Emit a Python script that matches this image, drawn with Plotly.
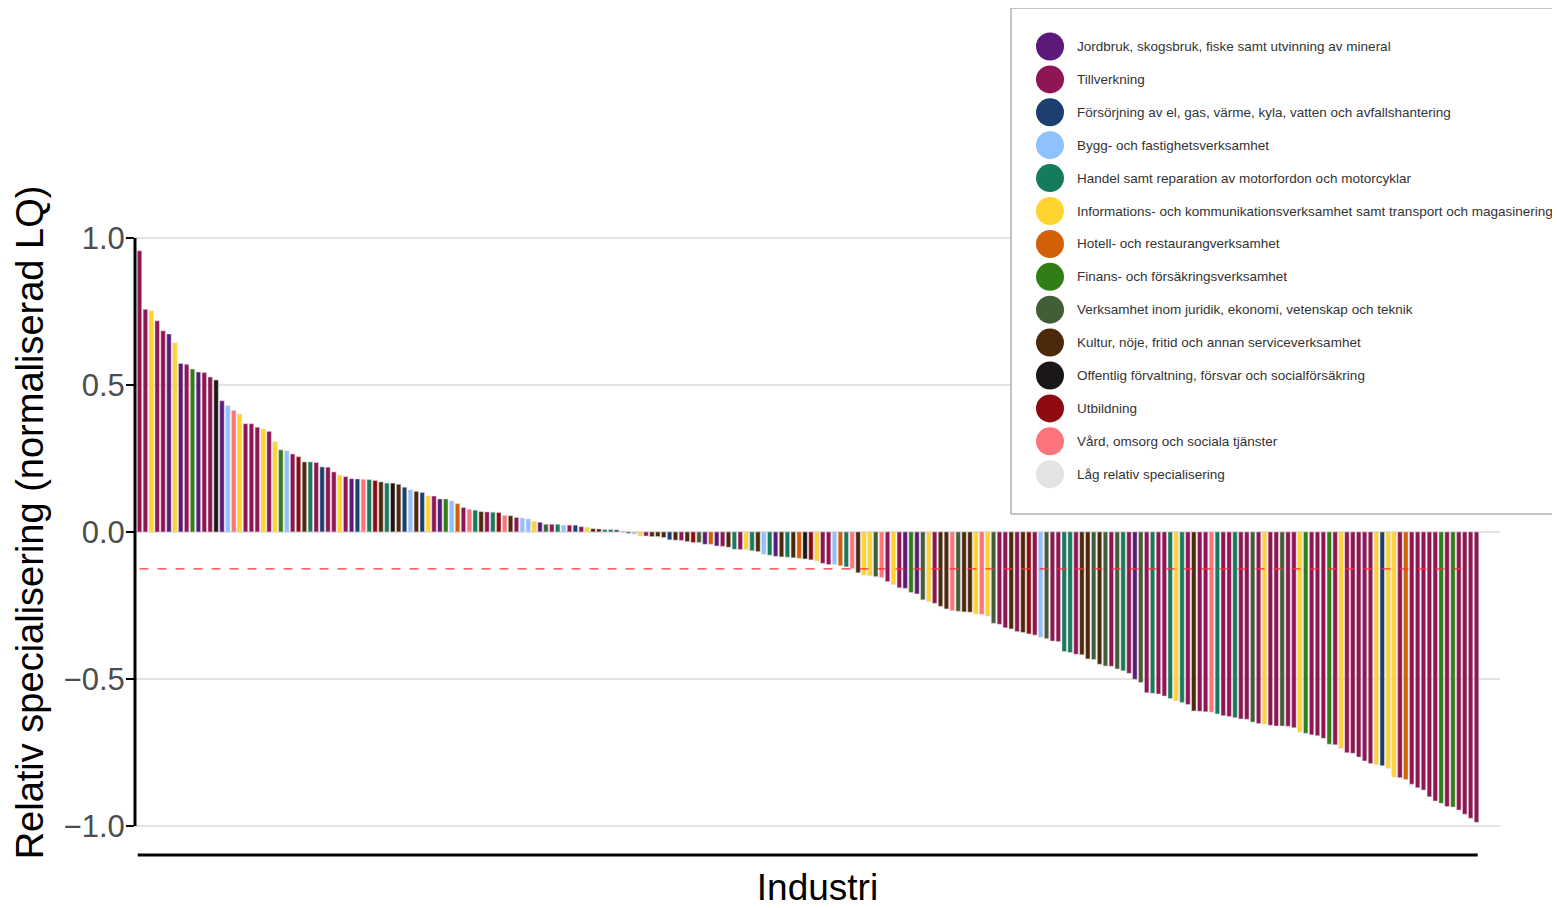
import plotly.graph_objects as go

# ---------------- data ----------------
sector_names = {
    "J": "Jordbruk, skogsbruk, fiske samt utvinning av mineral",
    "T": "Tillverkning",
    "F": "Försörjning av el, gas, värme, kyla, vatten och avfallshantering",
    "B": "Bygg- och fastighetsverksamhet",
    "H": "Handel samt reparation av motorfordon och motorcyklar",
    "I": "Informations- och kommunikationsverksamhet samt transport och magasinering",
    "R": "Hotell- och restaurangverksamhet",
    "K": "Finans- och försäkringsverksamhet",
    "V": "Verksamhet inom juridik, ekonomi, vetenskap och teknik",
    "C": "Kultur, nöje, fritid och annan serviceverksamhet",
    "O": "Offentlig förvaltning, försvar och socialförsäkring",
    "U": "Utbildning",
    "S": "Vård, omsorg och sociala tjänster",
    "L": "Låg relativ specialisering",
}
sector_order = ["J", "T", "F", "B", "H", "I", "R", "K", "V", "C", "O", "U", "S", "L"]
sector_colors = {
    "J": "#5B1A79", "T": "#8F1654", "F": "#1B3F6E", "B": "#8FC1FF",
    "H": "#167A5C", "I": "#FFD42F", "R": "#D26006", "K": "#317D18",
    "V": "#425E37", "C": "#4D290B", "O": "#1A1716", "U": "#8E0A11",
    "S": "#FF737B", "L": "#E3E3E3",
}

industry_sector = list(
    "TTITTJIJTKJTTOJBSITTTITIKBTU"
    "CHTFTTITJFSHUCHOCFBCFITJKBRT"
    "SHCTHUSCTBBIJVTHBTFTICCHHFTV"
    "BITCCCFCTCUVJRJTCHTIHCBHJCHC"
    "ROUITTBRHSCIIVSTITJKJVITCCSV"
    "CCISIVTTCTCUTBVTTHHTCCVCVTVH"
    "TJVTHTTHIHTCTTSHTTHTTVTITTVT"
    "TIKTTTKTITTTTTIFIITRTTTTTKTK"
    "TTTT"
)

lq_values = [
    0.956, 0.757, 0.752, 0.718, 0.684, 0.673, 0.643, 0.573, 0.570, 0.554,
    0.544, 0.542, 0.527, 0.517, 0.446, 0.429, 0.413, 0.401, 0.368, 0.368,
    0.356, 0.350, 0.342, 0.307, 0.279, 0.276, 0.265, 0.256, 0.238, 0.238,
    0.236, 0.221, 0.220, 0.204, 0.193, 0.188, 0.181, 0.180, 0.179, 0.178,
    0.175, 0.170, 0.166, 0.166, 0.162, 0.152, 0.143, 0.138, 0.134, 0.122,
    0.122, 0.112, 0.112, 0.105, 0.096, 0.083, 0.077, 0.074, 0.069, 0.068,
    0.067, 0.066, 0.056, 0.055, 0.049, 0.047, 0.044, 0.036, 0.033, 0.026,
    0.026, 0.026, 0.023, 0.023, 0.023, 0.018, 0.015, 0.011, 0.010, 0.008,
    0.008, 0.007, 0.002, -0.005, -0.007, -0.014, -0.014, -0.016, -0.016, -0.019,
    -0.027, -0.028, -0.029, -0.033, -0.036, -0.036, -0.042, -0.042, -0.048, -0.049,
    -0.052, -0.059, -0.060, -0.060, -0.064, -0.067, -0.076, -0.079, -0.083, -0.085,
    -0.086, -0.088, -0.090, -0.092, -0.095, -0.099, -0.107, -0.111, -0.111, -0.115,
    -0.119, -0.124, -0.139, -0.147, -0.149, -0.152, -0.155, -0.169, -0.179, -0.190,
    -0.192, -0.206, -0.211, -0.231, -0.237, -0.243, -0.253, -0.262, -0.268, -0.270,
    -0.272, -0.273, -0.279, -0.280, -0.286, -0.311, -0.314, -0.326, -0.330, -0.339,
    -0.342, -0.347, -0.351, -0.358, -0.363, -0.371, -0.373, -0.407, -0.410, -0.416,
    -0.418, -0.432, -0.434, -0.450, -0.456, -0.457, -0.466, -0.472, -0.481, -0.501,
    -0.512, -0.547, -0.549, -0.551, -0.558, -0.567, -0.574, -0.580, -0.587, -0.609,
    -0.610, -0.612, -0.613, -0.619, -0.625, -0.628, -0.632, -0.636, -0.637, -0.647,
    -0.652, -0.653, -0.658, -0.660, -0.660, -0.661, -0.666, -0.681, -0.685, -0.690,
    -0.693, -0.702, -0.722, -0.724, -0.736, -0.751, -0.753, -0.766, -0.779, -0.788,
    -0.791, -0.795, -0.804, -0.834, -0.836, -0.842, -0.858, -0.870, -0.878, -0.901,
    -0.915, -0.923, -0.934, -0.936, -0.946, -0.960, -0.974, -0.988,
]

threshold = -0.126
y_tick_vals = [-1.0, -0.5, 0.0, 0.5, 1.0]
y_tick_text = ["\u22121.0", "\u22120.5", "0.0", "0.5", "1.0"]

# ---------------- figure ----------------
n = len(lq_values)
x_idx = list(range(n))
bar_colors = [sector_colors[s] for s in industry_sector[:n]]
hover_names = [sector_names[s] for s in industry_sector[:n]]

FONT = "Liberation Sans, Arial, Helvetica, sans-serif"
OFF = 8  # page body margin
W, H = 1560 - OFF, 908 - OFF
L, R, T, B = 135 - OFF, 1500 - OFF, 190 - OFF, 855 - OFF

def px(xp):
    return (xp - OFF - L) / (R - L)

def py(yp):
    return (B - (yp - OFF)) / (B - T)

fig = go.Figure()
fig.add_trace(go.Bar(
    x=x_idx, y=lq_values,
    marker=dict(color=bar_colors, line=dict(color="rgba(225,215,220,0.9)", width=0.6)),
    customdata=hover_names,
    hovertemplate="%{customdata}<br>%{y:.3f}<extra></extra>",
    showlegend=False,
))

shapes = []
# y axis range-frame line
shapes.append(dict(type="line", xref="paper", yref="y", x0=0, x1=0, y0=-1, y1=1,
                   line=dict(color="black", width=3)))
# x axis range-frame line
shapes.append(dict(type="line", xref="x", yref="paper", x0=-0.3, x1=n - 0.8, y0=0, y1=0,
                   line=dict(color="black", width=3)))
# threshold dashed line
shapes.append(dict(type="line", xref="x", yref="y", x0=0, x1=n - 3.6, y0=threshold, y1=threshold,
                   line=dict(color="#FF3030", width=1.3, dash="dash")))

# legend box
shapes.append(dict(type="rect", xref="paper", yref="paper", x0=px(1011), x1=px(1566),
                   y0=py(514), y1=py(8), line=dict(color="#8C8C8C", width=1),
                   fillcolor="white", layer="above"))
annotations = []
row0, step = 46.5, 32.9
for i, key in enumerate(sector_order):
    cy = row0 + i * step
    shapes.append(dict(type="circle", xref="paper", yref="paper",
                       x0=px(1036), x1=px(1064), y0=py(cy + 14), y1=py(cy - 14),
                       fillcolor=sector_colors[key], line=dict(width=0), layer="above"))
    annotations.append(dict(xref="paper", yref="paper", x=px(1075), y=py(cy),
                            xanchor="left", yanchor="middle", showarrow=False,
                            text=sector_names[key],
                            font=dict(family=FONT, size=13.5, color="#333333")))

fig.update_layout(
    width=W, height=H,
    margin=dict(l=L, r=W - R, t=T, b=H - B, autoexpand=False),
    paper_bgcolor="white", plot_bgcolor="white",
    bargap=0.24,
    font=dict(family=FONT),
    shapes=shapes, annotations=annotations,
    xaxis=dict(range=[-0.764, 230.99], showticklabels=False, ticks="", showgrid=False,
               zeroline=False, showline=False, automargin=False,
               title=dict(text="Industri", font=dict(family=FONT, size=37, color="black"),
                          standoff=20)),
    yaxis=dict(range=[-1.099, 1.163], tickvals=y_tick_vals, ticktext=y_tick_text,
               ticks="outside", ticklen=8, tickwidth=2, tickcolor="black",
               ticklabelstandoff=-5,
               tickfont=dict(family=FONT, size=31, color="#4D4D4D"),
               showgrid=True, gridcolor="#E3E3E3", gridwidth=2,
               zeroline=False, showline=False, automargin=False,
               title=dict(text="Relativ specialisering (normaliserad LQ)",
                          font=dict(family=FONT, size=38, color="black"), standoff=8)),
)

fig.write_html("out.html")
